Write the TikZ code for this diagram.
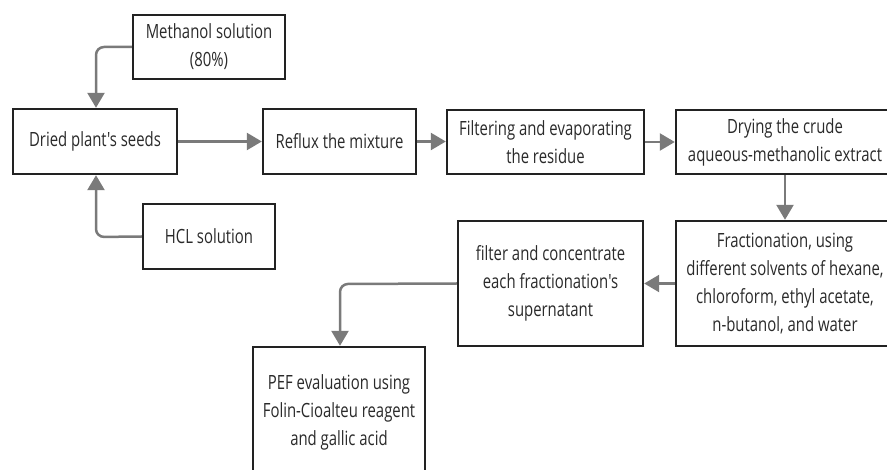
\documentclass[tikz,border=0pt]{standalone}
\usepackage{fontspec}
\setmainfont{Open Sans}[FakeStretch=0.76, Ligatures=TeXOff]
\usetikzlibrary{arrows.meta}
\definecolor{arrowgray}{HTML}{7A7A7A}
\definecolor{boxline}{HTML}{222222}
\definecolor{txt}{HTML}{2A2A2A}
\tikzset{
  box/.style={draw=boxline, line width=2.4pt, fill=white, inner sep=0pt, align=center,
    text=txt, font=\fontsize{19.6}{28}\selectfont},
  flow/.style={draw=arrowgray, line width=2.5pt, rounded corners=8pt,
    -{Triangle[length=15pt,width=17pt]}}
}
\begin{document}
\begin{tikzpicture}[x=1pt,y=-1pt]
\useasboundingbox (0,0) rectangle (887,470);
\clip (0,0) rectangle (887,470);
\node[box, minimum width=152pt, minimum height=64pt] (meth) at (209,47) {Methanol solution\\(80\%)};
\node[box, minimum width=164pt, minimum height=65pt] (dried) at (95,141.5) {Dried plant's seeds};
\node[box, minimum width=153pt, minimum height=65pt] (reflux) at (339.5,141.5) {Reflux the mixture};
\node[box, minimum width=197pt, minimum height=64pt] (filt) at (545.5,142) {Filtering and evaporating\\the residue};
\node[box, minimum width=218pt, minimum height=64pt] (dry) at (785,142) {Drying the crude\\aqueous-methanolic extract};
\node[box, minimum width=132pt, minimum height=65pt] (hcl) at (209,236.5) {HCL solution};
\node[box, minimum width=218pt, minimum height=125pt] (frac) at (785,283.5) {Fractionation, using\\different solvents of hexane,\\chloroform, ethyl acetate,\\n-butanol, and water};
\node[box, minimum width=185pt, minimum height=125pt] (filt2) at (550.5,283.5) {filter and concentrate\\each fractionation's\\supernatant};
\node[box, minimum width=172pt, minimum height=130pt] (pef) at (339,412) {PEF evaluation using\\Folin-Cioalteu reagent\\and gallic acid};
\coordinate (c1) at (96,47);
\coordinate (c2) at (96,237);
\coordinate (c3) at (340,284);
\draw[flow] (meth.west) -- (c1) -- (dried.north -| c1);
\draw[flow] (hcl.west) -- (c2) -- (dried.south -| c2);
\draw[flow] (dried.east) -- (reflux.west);
\draw[flow] (reflux.east) -- (filt.west |- reflux.east);
\draw[flow] (filt.east) -- (dry.west);
\draw[flow] (dry.south) -- (frac.north);
\draw[flow] (frac.west) -- (filt2.east);
\draw[flow] (filt2.west) -- (c3) -- (pef.north -| c3);
\end{tikzpicture}
\end{document}
